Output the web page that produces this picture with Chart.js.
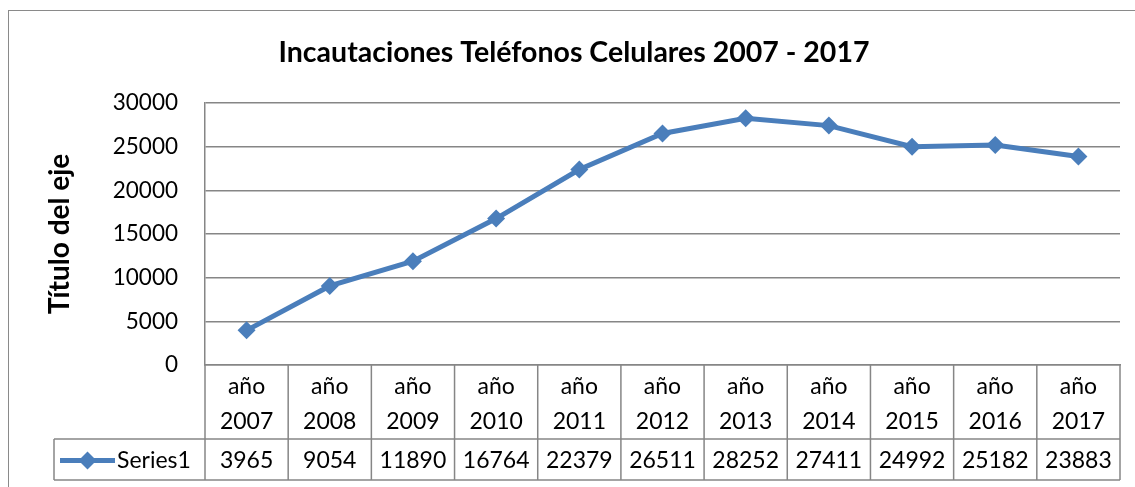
<!DOCTYPE html>
<html>
<head>
<meta charset="utf-8">
<script src="https://cdn.jsdelivr.net/npm/chart.js@4.4.1/dist/chart.umd.min.js"></script>
<style>
  html, body { margin: 0; padding: 0; background: #fff; }
  #wrap { width: 1135px; height: 487px; }
</style>
</head>
<body>
<div id="wrap"><canvas id="chart"></canvas></div>
<script>
// Datos del gráfico
const years = ['2007', '2008', '2009', '2010', '2011', '2012', '2013', '2014', '2015', '2016', '2017'];
const categories = years.map(y => ['año', y]);
const seizures = [3965, 9054, 11890, 16764, 22379, 26511, 28252, 27411, 24992, 25182, 23883];
const yTickValues = [0, 5000, 10000, 15000, 20000, 25000, 30000];

const GRID = '#868686';
const BLUE = '#4A7EBB';
const FONT = 'Lato';

// Marco exterior del gráfico
const frame = {
    id: 'frame',
    beforeDraw(chart) {
        const c = chart.ctx;
        c.save();
        c.strokeStyle = '#8a8a8a';
        c.lineWidth = 1;
        c.strokeRect(8.5, 10.5, chart.width + 20, chart.height + 20);
        c.restore();
    }
};

// Tabla de datos bajo el eje
const dataTable = {
    id: 'dataTable',
    afterDraw(chart) {
        const c = chart.ctx;
        const x = chart.scales.x;
        const area = chart.chartArea;
        const n = categories.length;
        const step = x.getPixelForValue(1) - x.getPixelForValue(0);
        const left = x.getPixelForValue(0) - step / 2;
        const right = x.getPixelForValue(n - 1) + step / 2;
        const rowTop = area.bottom + 74;
        const rowBottom = area.bottom + 115;
        const keyLeft = 54;
        const midY = (rowTop + rowBottom) / 2 + 1;

        c.save();
        c.strokeStyle = GRID;
        c.lineWidth = 1.5;
        c.beginPath();
        for (let i = 0; i <= n; i++) {
            const px = left + i * step;
            c.moveTo(px, area.bottom);
            c.lineTo(px, rowBottom);
        }
        c.moveTo(keyLeft, rowTop); c.lineTo(keyLeft, rowBottom);
        c.moveTo(keyLeft, rowTop); c.lineTo(right, rowTop);
        c.moveTo(keyLeft, rowBottom); c.lineTo(right, rowBottom);
        c.stroke();

        // leyenda de la serie
        c.strokeStyle = BLUE;
        c.lineWidth = 5;
        c.beginPath();
        c.moveTo(60, midY); c.lineTo(115, midY);
        c.stroke();
        c.fillStyle = BLUE;
        Chart.helpers.drawPoint(c, { pointStyle: 'rectRot', radius: 9, rotation: 0, borderWidth: 0 }, 87.5, midY);

        c.fillStyle = '#000';
        c.font = '23px ' + FONT;
        c.textBaseline = 'middle';
        c.textAlign = 'left';
        c.fillText(chart.data.datasets[0].label, 117, midY);

        c.textAlign = 'center';
        seizures.forEach((v, i) => {
            c.fillText(String(v), x.getPixelForValue(i), midY);
        });
        c.restore();
    }
};

new Chart(document.getElementById('chart'), {
    type: 'line',
    data: {
        labels: categories,
        datasets: [{
            label: 'Series1',
            data: seizures,
            borderColor: BLUE,
            backgroundColor: BLUE,
            borderWidth: 5,
            pointStyle: 'rectRot',
            pointRadius: 9,
            pointBorderWidth: 0,
            tension: 0
        }]
    },
    options: {
        responsive: true,
        maintainAspectRatio: false,
        animation: false,
        layout: { padding: { left: 28, right: 15, top: 0, bottom: 0 } },
        plugins: {
            legend: { display: false },
            tooltip: { enabled: false },
            title: {
                display: true,
                text: 'Incautaciones Teléfonos Celulares 2007 - 2017',
                color: '#000',
                font: { family: FONT, size: 28.5, weight: 'bold' },
                padding: { top: 36, bottom: 32.8 }
            }
        },
        scales: {
            x: {
                offset: true,
                grid: { display: false },
                border: { display: true, color: GRID, width: 1.5 },
                ticks: {
                    color: '#000',
                    font: { family: FONT, size: 23, lineHeight: 1.52 },
                    padding: -3.5,
                    maxRotation: 0,
                    autoSkip: false
                },
                afterFit(s) { s.height = 122; }
            },
            y: {
                min: 0,
                max: 30000,
                afterBuildTicks(s) { s.ticks = yTickValues.map(v => ({ value: v })); },
                grid: { color: GRID, lineWidth: 1.5, drawTicks: false },
                border: { display: true, color: GRID, width: 1.5 },
                ticks: {
                    color: '#000',
                    font: { family: FONT, size: 22.5 },
                    padding: 27,
                    callback: v => String(v)
                },
                title: {
                    display: true,
                    text: 'Título del eje',
                    color: '#000',
                    font: { family: FONT, size: 28, weight: 'bold' },
                    padding: { top: 15, bottom: 0 }
                },
                afterFit(s) { s.width = 177; }
            }
        }
    },
    plugins: [frame, dataTable]
});
</script>
</body>
</html>
